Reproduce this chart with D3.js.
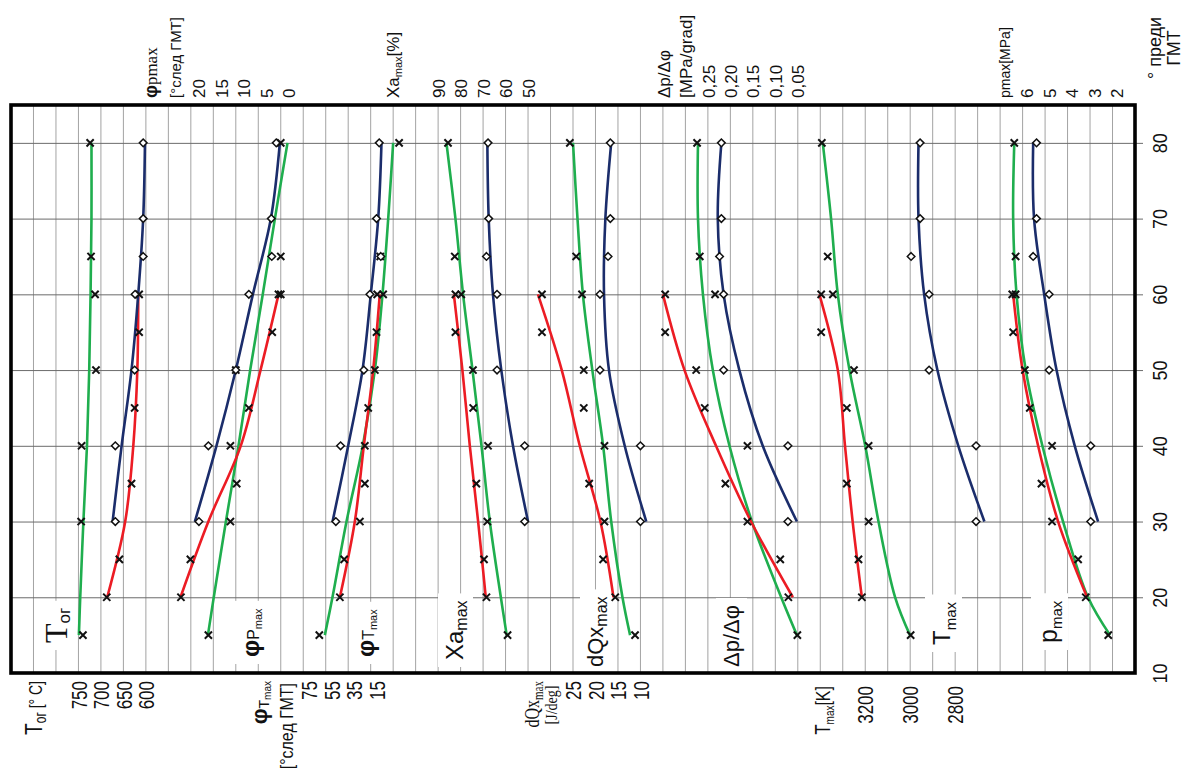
<!DOCTYPE html>
<html>
<head>
<meta charset="utf-8">
<script src="https://cdn.jsdelivr.net/npm/d3@7"></script>
<style>
  body { margin: 0; background: #fff; }
  svg { display: block; }
</style>
</head>
<body>
<svg></svg>
<script>
// angle before TDC for each series
const redAngles = [20, 25, 35, 45, 55, 60];
const blueAngles = [30, 40, 50, 60, 65, 70, 80];
const greenAngles = [15, 30, 40, 50, 60, 65, 80];
const redFitAngles = [20, 30, 40, 50, 60];
const blueFitAngles = [30, 40, 50, 60, 70, 80];
const greenFitAngles = [15, 20, 30, 40, 50, 60, 70, 80];
const angleTicks = [10, 20, 30, 40, 50, 60, 70, 80];

// T_ог [°C]
const togTicks = [750, 700, 650, 600];
const togRed = [687, 659, 632, 625, 615, 615];
const togBlue = [668, 668, 625, 624, 606, 606, 606];
const togGreen = [740, 744, 743, 711, 713, 722, 724];
const togRedFit = [686, 646, 628, 619, 617];
const togBlueFit = [674, 654, 632, 617, 606, 602];
const togGreenFit = [749, 746, 739, 731, 726, 723, 721, 721];

// φ pmax [° след ГМТ]
const fpmTicks = [20, 15, 10, 5, 0];
const fpmRed = [22.2, 20.1, 9.8, 7.1, 1.9, 0.5];
const fpmBlue = [18.2, 16.1, 10.0, 7.1, 2.0, 2.1, 1.0];
const fpmGreen = [16.1, 11.2, 11.2, 10.0, 0.0, 0.0, 0.0];
const fpmRedFit = [22.3, 16.1, 8.9, 4.5, 0.5];
const fpmBlueFit = [19.1, 14.3, 10.0, 6.2, 2.2, 0.2];
const fpmGreenFit = [16.2, 14.9, 12.2, 9.4, 6.8, 4.0, 1.3, -1.5];

// φ Tmax [° след ГМТ]
const ftmTicks = [75, 55, 35, 15];
const ftmRed = [42.4, 38.6, 20.2, 17.2, 9.8, 9.2];
const ftmBlue = [46.0, 41.8, 21.1, 15.7, 6.0, 9.8, 7.4];
const ftmGreen = [60.7, 24.6, 20.2, 11.3, 3.9, 6.5, -10.3];
const ftmRedFit = [42.4, 29.1, 21.1, 12.8, 6.9];
const ftmBlueFit = [48.9, 35.0, 22.3, 14.9, 8.3, 5.4];
const ftmGreenFit = [55.8, 49.0, 36.5, 22.0, 11.3, 4.5, -0.6, -5.0];

// Xa max [%]
const xaTicks = [90, 80, 70, 60, 50];
const xaRed = [68.5, 69.6, 73.0, 74.4, 82.3, 82.3];
const xaBlue = [51.5, 51.5, 63.8, 63.8, 68.5, 67.5, 67.8];
const xaGreen = [59.1, 68.1, 67.8, 74.5, 79.7, 82.6, 85.6];
const xaRedFit = [68.8, 72.2, 75.9, 79.2, 83.0];
const xaBlueFit = [50.0, 56.7, 61.9, 65.6, 67.5, 68.1];
const xaGreenFit = [59.5, 62.1, 67.0, 70.7, 74.7, 78.9, 82.3, 86.3];

// dQx max [J/deg]
const dqxTicks = [25, 20, 15, 10];
const dqxRed = [15.6, 18.3, 21.4, 22.6, 31.9, 31.9];
const dqxBlue = [10.0, 10.0, 19.0, 19.0, 17.2, 16.7, 16.7];
const dqxGreen = [11.2, 18.0, 18.0, 22.6, 23.0, 24.3, 25.7];
const dqxRedFit = [16.0, 18.9, 23.5, 27.5, 32.8];
const dqxBlueFit = [8.7, 13.5, 17.0, 18.1, 17.8, 16.5];
const dqxGreenFit = [12.3, 14.0, 16.5, 18.3, 20.7, 22.8, 24.0, 25.0];

// Δp/Δφ [MPa/grad]
const dpdTicks = [0.25, 0.20, 0.15, 0.10, 0.05];
const dpdRed = [0.071, 0.089, 0.211, 0.257, 0.345, 0.345];
const dpdBlue = [0.072, 0.072, 0.215, 0.215, 0.224, 0.220, 0.220];
const dpdGreen = [0.051, 0.162, 0.162, 0.276, 0.234, 0.268, 0.274];
const dpdRedFit = [0.061, 0.154, 0.232, 0.302, 0.350];
const dpdBlueFit = [0.052, 0.128, 0.180, 0.215, 0.228, 0.220];
const dpdGreenFit = [0.052, 0.087, 0.152, 0.202, 0.239, 0.261, 0.272, 0.272];

// T max [K]
const tmaxTicks = [3200, 3000, 2800];
const tmaxRed = [3215, 3230, 3282, 3282, 3396, 3396];
const tmaxBlue = [2707, 2707, 2916, 2916, 2996, 2956, 2956];
const tmaxGreen = [2998, 3185, 3185, 3250, 3344, 3367, 3393];
const tmaxRedFit = [3215, 3256, 3290, 3322, 3404];
const tmaxBlueFit = [2670, 2786, 2879, 2938, 2963, 2963];
const tmaxGreenFit = [3001, 3067, 3141, 3200, 3270, 3322, 3352, 3389];

// p max [MPa]
const pmaxTicks = [6, 5, 4, 3, 2];
const pmaxRed = [3.19, 3.53, 5.16, 5.68, 6.42, 6.46];
const pmaxBlue = [2.97, 2.97, 4.82, 4.82, 5.53, 5.38, 5.38];
const pmaxGreen = [2.19, 4.69, 4.69, 5.90, 6.31, 6.31, 6.37];
const pmaxRedFit = [3.13, 4.42, 5.31, 6.00, 6.42];
const pmaxBlueFit = [2.64, 3.68, 4.49, 5.04, 5.49, 5.53];
const pmaxGreenFit = [2.11, 3.09, 4.20, 5.12, 5.86, 6.27, 6.42, 6.37];

const comma = (d) => d3.format(".2f")(d).replace(".", ",");

const panels = [
  { ticks: togTicks, k0: 3, kStep: 1, side: "bottom", dx: 0, red: togRed, blue: togBlue, green: togGreen, redFit: togRedFit, blueFit: togBlueFit, greenFit: togGreenFit },
  { ticks: fpmTicks, k0: 8, kStep: 1, side: "top", dx: 8, red: fpmRed, blue: fpmBlue, green: fpmGreen, redFit: fpmRedFit, blueFit: fpmBlueFit, greenFit: fpmGreenFit },
  { ticks: ftmTicks, k0: 13, kStep: 1, side: "bottom", dx: 6, red: ftmRed, blue: ftmBlue, green: ftmGreen, redFit: ftmRedFit, blueFit: ftmBlueFit, greenFit: ftmGreenFit },
  { ticks: xaTicks, k0: 19, kStep: 1, side: "top", dx: 0, red: xaRed, blue: xaBlue, green: xaGreen, redFit: xaRedFit, blueFit: xaBlueFit, greenFit: xaGreenFit },
  { ticks: dqxTicks, k0: 25, kStep: 1, side: "bottom", dx: 0, red: dqxRed, blue: dqxBlue, green: dqxGreen, redFit: dqxRedFit, blueFit: dqxBlueFit, greenFit: dqxGreenFit },
  { ticks: dpdTicks, k0: 31, kStep: 1, side: "top", dx: 0, format: comma, red: dpdRed, blue: dpdBlue, green: dpdGreen, redFit: dpdRedFit, blueFit: dpdBlueFit, greenFit: dpdGreenFit },
  { ticks: tmaxTicks, k0: 38, kStep: 2, side: "bottom", dx: 0, yEnd: 686, red: tmaxRed, blue: tmaxBlue, green: tmaxGreen, redFit: tmaxRedFit, blueFit: tmaxBlueFit, greenFit: tmaxGreenFit },
  { ticks: pmaxTicks, k0: 45, kStep: 1, side: "top", dx: 4, red: pmaxRed, blue: pmaxBlue, green: pmaxGreen, redFit: pmaxRedFit, blueFit: pmaxBlueFit, greenFit: pmaxGreenFit },
];

const sans = "'Liberation Sans', Arial, sans-serif";
const serif = "'Liberation Serif', 'Times New Roman', serif";
const RED = "#ec1c24", BLUE = "#1b2d6b", GREEN = "#1fae4e";

const svg = d3.select("svg").attr("width", 1189).attr("height", 774)
  .attr("font-family", sans);

// grid column index -> x, angle -> y
const gx = d3.scaleLinear().domain([0, 50]).range([11, 1135]);
const ya = d3.scaleLinear().domain([10, 85]).range([673, 105]);

const gridG = svg.append("g");
const labelG = svg.append("g");
const curveG = svg.append("g");
const markG = svg.append("g");
const frameG = svg.append("g");
const textG = svg.append("g");

// vertical grid
gridG.selectAll("line.v")
  .data(d3.range(1, 50))
  .join("line")
  .attr("class", "v")
  .attr("x1", (d) => gx(d))
  .attr("x2", (d) => gx(d))
  .attr("y1", ya(85))
  .attr("y2", ya(10))
  .attr("stroke", "#a3a3a3")
  .attr("stroke-width", 1);

// angle axis (horizontal grid + labels on the right)
const angleAxis = gridG.append("g")
  .attr("transform", "translate(1143,0)")
  .call(d3.axisRight(ya).tickValues(angleTicks).tickSize(-1132).tickPadding(0));
angleAxis.select(".domain").remove();
angleAxis.selectAll(".tick line").attr("stroke", "#6b6b6b").attr("stroke-width", 1);
angleAxis.selectAll(".tick text")
  .attr("x", null).attr("dy", "0.36em")
  .attr("transform", "translate(17,0) rotate(-90) scale(1,1.1)")
  .attr("text-anchor", "middle")
  .attr("font-size", 18)
  .attr("font-family", sans)
  .attr("fill", "#111");
angleAxis.selectAll(".tick").filter((d) => d === 10).select("line").remove();

// helper for rotated (reading upward) text
function rlabel(parent, x, y, anchor, parts, opt = {}) {
  const g = parent.append("g").attr("transform", `translate(${x},${y}) rotate(-90)`);
  const t = g.append("text")
    .attr("text-anchor", anchor)
    .attr("fill", "#111")
    .attr("font-family", opt.family || sans)
    .attr("transform", opt.sy ? `scale(1,${opt.sy})` : null);
  parts.forEach((p) => {
    t.append("tspan")
      .attr("font-size", p.s)
      .attr("dy", p.dy || 0)
      .attr("font-weight", p.w || null)
      .attr("font-family", p.f || null)
      .text(p.t);
  });
  if (opt.box) {
    const b = t.node().getBBox();
    g.insert("rect", "text")
      .attr("x", b.x - 7).attr("y", b.y - 3)
      .attr("width", b.width + 14).attr("height", b.height + 6)
      .attr("fill", "#fff");
  }
  return g;
}

const line = d3.line().curve(d3.curveCatmullRom.alpha(0.5));
const xMark = "M-3.6,-3.6L3.6,3.6M-3.6,3.6L3.6,-3.6";
const diamond = "M0,-3.8L3.8,0L0,3.8L-3.8,0Z";

panels.forEach((p) => {
  const n = p.ticks.length;
  const sx = d3.scaleLinear()
    .domain([p.ticks[0], p.ticks[n - 1]])
    .range([gx(p.k0), gx(p.k0 + p.kStep * (n - 1))]);

  // value axis
  const top = p.side === "top";
  const yPos = top ? 98 : (p.yEnd || 681);
  const ax = textG.append("g")
    .attr("transform", `translate(${p.dx},${yPos})`)
    .call((top ? d3.axisTop(sx) : d3.axisBottom(sx))
      .tickValues(p.ticks).tickSize(0).tickPadding(0)
      .tickFormat(p.format || d3.format("d")));
  ax.select(".domain").remove();
  ax.selectAll(".tick text")
    .attr("y", 0).attr("dy", "0.36em")
    .attr("transform", top ? "rotate(-90)" : "rotate(-90) scale(1,1.25)")
    .attr("text-anchor", top ? "start" : "end")
    .attr("font-size", 17)
    .attr("font-family", sans)
    .attr("fill", "#111");

  // fitted curves
  const fits = [
    [p.greenFit, greenFitAngles, GREEN],
    [p.redFit, redFitAngles, RED],
    [p.blueFit, blueFitAngles, BLUE],
  ];
  fits.forEach(([vals, angs, col]) => {
    curveG.append("path")
      .attr("d", line(vals.map((v, i) => [sx(v), ya(angs[i])])))
      .attr("fill", "none")
      .attr("stroke", col)
      .attr("stroke-width", 2.6);
  });

  // measured points
  const xs = [];
  p.red.forEach((v, i) => xs.push([sx(v), ya(redAngles[i])]));
  p.green.forEach((v, i) => xs.push([sx(v), ya(greenAngles[i])]));
  markG.selectAll(null)
    .data(xs)
    .join("path")
    .attr("d", xMark)
    .attr("transform", (d) => `translate(${d[0]},${d[1]})`)
    .attr("stroke", "#111")
    .attr("stroke-width", 2)
    .attr("fill", "none");
  markG.selectAll(null)
    .data(p.blue.map((v, i) => [sx(v), ya(blueAngles[i])]))
    .join("path")
    .attr("d", diamond)
    .attr("transform", (d) => `translate(${d[0]},${d[1]})`)
    .attr("fill", "#fff")
    .attr("stroke", "#111")
    .attr("stroke-width", 1.5);
});

// frame
frameG.append("rect")
  .attr("x", gx(0)).attr("y", ya(85))
  .attr("width", gx(50) - gx(0)).attr("height", ya(10) - ya(85))
  .attr("fill", "none").attr("stroke", "#000").attr("stroke-width", 3.6);

// labels inside the plot (white boxes break the grid)
const B = { box: true };
rlabel(labelG, 67, 643, "start", [{ t: "T", s: 32, f: serif }, { t: "ог", s: 17, dy: 3 }], B);
rlabel(labelG, 259, 657, "start", [{ t: "φ", s: 24, w: "bold" }, { t: "P", s: 16 }, { t: "max", s: 11, dy: 3 }], B);
rlabel(labelG, 374, 657, "start", [{ t: "φ", s: 24, w: "bold" }, { t: "T", s: 16 }, { t: "max", s: 11, dy: 3 }], B);
rlabel(labelG, 463, 660, "start", [{ t: "Xa", s: 24 }, { t: "max", s: 16, dy: 4 }], B);
rlabel(labelG, 603, 667, "start", [{ t: "dQx", s: 22 }, { t: "max", s: 16, dy: 4 }], B);
rlabel(labelG, 739, 667, "start", [{ t: "Δp/Δφ", s: 22 }], B);
rlabel(labelG, 950, 645, "start", [{ t: "T", s: 24 }, { t: "max", s: 15, dy: 6 }], B);
rlabel(labelG, 1057, 643, "start", [{ t: "p", s: 25 }, { t: "max", s: 15, dy: 5 }], B);

// axis titles, bottom
rlabel(textG, 42, 681, "end", [{ t: "T", s: 19 }, { t: "ог", s: 12, dy: 3 }, { t: " [° C]", s: 14, dy: -3 }], { sy: 1.3 });
rlabel(textG, 267, 681, "end", [{ t: "φ", s: 22, w: "bold" }, { t: "T", s: 14, dy: 2 }, { t: "max", s: 10, dy: 2 }]);
rlabel(textG, 293, 683, "end", [{ t: "[°след ГМТ]", s: 16 }], { sy: 1.15 });
rlabel(textG, 539, 681, "end", [{ t: "dQx", s: 16 }, { t: "max", s: 11, dy: 3 }], { family: serif, sy: 1.3 });
rlabel(textG, 557, 705, "middle", [{ t: "[J/deg]", s: 14 }], { family: serif, sy: 1.25 });
rlabel(textG, 830, 686, "end", [{ t: "T", s: 17 }, { t: "max", s: 10, dy: 3 }, { t: "[K]", s: 16, dy: -3 }], { sy: 1.25 });

// axis titles, top
rlabel(textG, 157, 98, "start", [{ t: "φ", s: 18, w: "bold" }, { t: "pmax", s: 17, f: serif }]);
rlabel(textG, 181, 98, "start", [{ t: "[°след ГМТ]", s: 15 }]);
rlabel(textG, 399, 98, "start", [{ t: "Xa", s: 17 }, { t: "max", s: 11, dy: 3 }, { t: "[%]", s: 17, dy: -3 }]);
rlabel(textG, 670, 98, "start", [{ t: "Δp/Δφ", s: 17 }]);
rlabel(textG, 692, 98, "start", [{ t: "[MPa/grad]", s: 17 }]);
rlabel(textG, 1010, 98, "start", [{ t: "pmax[MPa]", s: 14 }]);

// angle axis title
rlabel(textG, 1161, 48, "middle", [{ t: "° преди", s: 18 }]);
rlabel(textG, 1180, 48, "middle", [{ t: "ГМТ", s: 18 }]);
</script>
</body>
</html>
